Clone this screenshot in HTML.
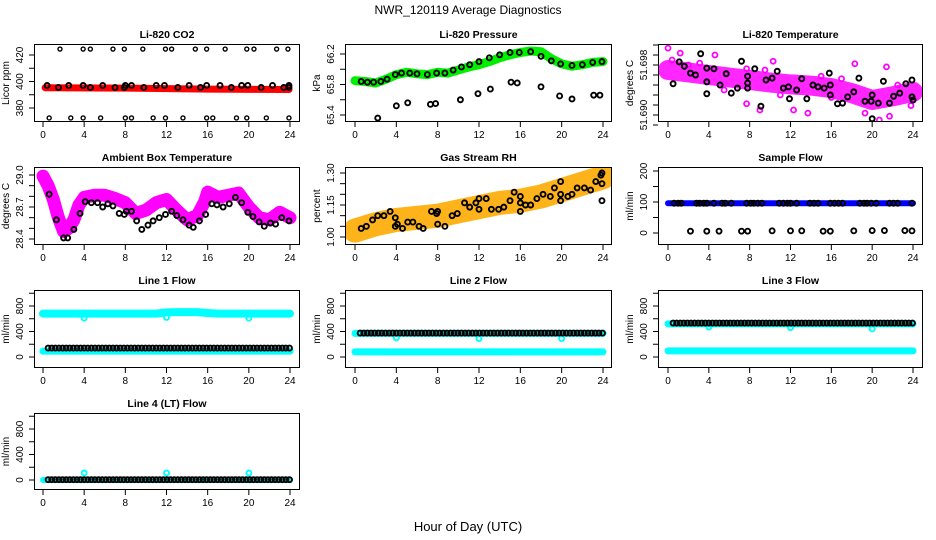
<!DOCTYPE html>
<html><head><meta charset="utf-8">
<style>
html,body{margin:0;padding:0;background:#fff;}
svg{display:block;font-family:"Liberation Sans",Arial,sans-serif;}
</style></head>
<body>
<svg id="chart" width="936" height="540" viewBox="0 0 936 540" xmlns="http://www.w3.org/2000/svg">
<rect x="0" y="0" width="936" height="540" fill="#fff"/>
<text x="468" y="14" text-anchor="middle" font-size="12">NWR_120119  Average Diagnostics</text>
<text x="468" y="531" text-anchor="middle" font-size="13">Hour of Day (UTC)</text>
<g id="panels"></g>
</svg>
<script>
// ---------- data ----------
const xTicks = [0,4,8,12,16,20,24];

// CO2
const co2BandHours = [0.2,8,16,23.9];
const co2BandVals = [395.3,395,394.3,394];
const co2MidHours = [0.4,1.5,2.5,3.9,4.6,5.8,7.0,7.9,8.0,8.6,9.8,11.0,11.8,13.1,14.2,15.3,15.9,17.2,18.3,19.3,19.9,21.2,22.3,23.4,23.9,23.9];
const co2MidVals = [397,395.5,397,397,395.5,397,395.5,395.5,397,397,395.5,397,397,395.5,397,395.5,397,397,395.5,397,397,395.5,397,395.5,397,395.5];
const co2TopHours = [1.65,3.9,4.6,6.8,7.9,9.7,11.9,12.5,14.8,15.9,17.7,19.8,20.5,22.7,23.8];
const co2TopVals = [424.5,424.5,424.5,424.5,424.5,424.5,424.5,424.5,424.5,424.5,424.5,424.5,424.5,424.5,424.5];
const co2BotHours = [0.6,2.7,3.9,5.6,8.0,8.6,10.7,11.9,13.6,15.9,16.5,18.8,19.8,21.7,23.9];
const co2BotVals = [372.5,372.5,372.5,372.5,372.5,372.5,372.5,372.5,372.5,372.5,372.5,372.5,372.5,372.5,372.5];

// Pressure
const presHours = [0,1,2,3,4,5,6,7,8,9,10,11,12,13,14,15,16,17,18,19,20,21,22,23,24];
const presVals = [65.85,65.84,65.82,65.87,65.93,65.96,65.94,65.93,65.96,65.95,65.99,66.03,66.06,66.10,66.15,66.19,66.22,66.24,66.23,66.14,66.07,66.04,66.06,66.09,66.10];
const presBlackHours = [0.6,1.2,1.8,2.5,3.1,3.9,4.5,5.3,6.0,7.0,7.9,8.7,9.5,10.3,11.1,12.0,13.0,14.0,15.0,15.9,17.0,18.0,19.0,19.9,21.0,22.0,23.0,23.9];
const presBlackVals = [65.84,65.83,65.83,65.84,65.87,65.93,65.95,65.95,65.94,65.93,65.95,65.95,65.99,66.03,66.06,66.10,66.15,66.19,66.22,66.22,66.23,66.17,66.11,66.07,66.05,66.06,66.09,66.10];
const presLowHours = [2.2,4.0,5.1,7.3,7.8,10.2,11.9,13.1,15.1,15.7,18.0,19.8,21.0,23.1,23.7];
const presLowVals = [65.36,65.52,65.56,65.54,65.55,65.60,65.68,65.74,65.83,65.82,65.77,65.65,65.61,65.66,65.66];

// Li-820 Temperature
const tempBandHours = [0,2,4,6,8,10,12,14,16,18,20,22,24];
const tempBandVals = [51.6972,51.6968,51.6964,51.696,51.6956,51.6952,51.6949,51.6947,51.6943,51.6935,51.6924,51.693,51.6937];
const tempMagHours = [0,1.2,3.1,4.6,7.7,9.0,10.3,12.3,13.7,18.3,21.4,20.7,21.7,19.3,7.7,0.4,2.0,5.5,11.0,15.0,17.0,22.5,23.8,16.0,9.5];
const tempMagVals = [51.7007,51.6999,51.6983,51.6996,51.6918,51.6908,51.6986,51.6908,51.6903,51.6982,51.6977,51.6892,51.6898,51.6903,51.6974,51.6988,51.6980,51.6940,51.6932,51.6962,51.6958,51.6948,51.6915,51.6928,51.6972];
const tempBlackHours = [0.5,1.1,1.6,2.2,2.7,3.2,3.8,3.8,3.8,4.5,5.1,5.7,6.2,6.8,7.2,7.8,7.8,7.8,8.5,9.1,9.6,10.2,10.7,11.3,11.8,11.9,12.6,13.1,13.6,14.2,14.7,15.3,15.8,15.9,15.9,16.6,17.1,17.6,18.2,18.7,19.3,19.9,20.0,20.0,20.6,21.1,21.7,22.1,22.7,23.3,23.9,23.9,24.0];
const tempBlackVals = [51.6950,51.6985,51.6978,51.6967,51.6964,51.6998,51.6975,51.6934,51.6953,51.6974,51.6948,51.6966,51.6935,51.6943,51.6986,51.6962,51.6951,51.6943,51.6974,51.6914,51.6956,51.6959,51.6970,51.6943,51.6945,51.6926,51.6940,51.6958,51.6926,51.6948,51.6945,51.6943,51.6967,51.6948,51.6932,51.6918,51.6919,51.6929,51.6937,51.6959,51.6922,51.6922,51.6932,51.6894,51.6919,51.6954,51.6919,51.6930,51.6935,51.6950,51.6956,51.6929,51.6924];

// Ambient box temperature
const ambHours = [0,0.5,1,1.5,2,2.5,3,3.5,4,5,6,7,8,9,10,11,12,13,14,15,15.7,16,17,18,19,20,21,22,23,24];
const ambVals = [28.99,28.90,28.77,28.60,28.47,28.50,28.58,28.72,28.79,28.81,28.81,28.78,28.74,28.64,28.67,28.74,28.77,28.67,28.58,28.62,28.75,28.84,28.79,28.81,28.83,28.70,28.60,28.58,28.65,28.60];
const ambBlackHours = [0.6,1.3,2.0,2.4,3.0,3.6,4.1,4.7,5.3,5.8,6.3,6.8,7.4,7.9,8.1,8.6,9.1,9.6,10.2,10.7,11.3,11.9,12.5,13.0,13.6,14.2,14.6,15.2,15.8,16.4,16.9,17.5,18.1,18.7,19.3,19.9,20.4,21.0,21.5,22.1,22.6,23.2,23.9];
const ambBlackVals = [28.82,28.58,28.41,28.41,28.49,28.64,28.75,28.74,28.74,28.70,28.73,28.71,28.64,28.63,28.66,28.66,28.57,28.49,28.53,28.57,28.60,28.63,28.66,28.62,28.58,28.53,28.51,28.57,28.63,28.73,28.72,28.70,28.73,28.79,28.74,28.65,28.61,28.56,28.52,28.55,28.54,28.60,28.57];

// Gas stream RH
const rhBandHours = [0,2,4,6,8,10,12,14,16,18,20,22,24];
const rhBandVals = [1.03,1.06,1.08,1.09,1.10,1.12,1.14,1.16,1.17,1.19,1.22,1.25,1.28];
const rhBlackHours = [0.6,1.1,1.7,2.2,2.8,3.4,3.9,3.9,4.1,4.6,5.1,5.6,6.2,6.6,7.4,7.9,8.0,8.0,8.7,9.4,9.9,10.6,11.1,11.7,12.0,12.0,12.7,13.2,13.9,14.4,15.0,15.4,16.0,16.0,16.0,16.5,17.0,17.6,18.2,18.9,19.3,19.9,19.9,19.9,20.6,21.0,21.5,22.2,22.8,23.3,23.8,23.9,23.9,23.9];
const rhBlackVals = [1.04,1.05,1.08,1.10,1.10,1.12,1.09,1.05,1.06,1.04,1.07,1.07,1.05,1.04,1.12,1.11,1.12,1.06,1.05,1.10,1.11,1.16,1.14,1.16,1.18,1.13,1.18,1.13,1.13,1.14,1.17,1.21,1.19,1.16,1.12,1.15,1.15,1.18,1.20,1.19,1.23,1.26,1.20,1.17,1.19,1.20,1.23,1.23,1.22,1.26,1.29,1.30,1.25,1.17];

// Sample flow
const sampBandHours = [0,24];
const sampBandVals = [96,96];
const sampHiHours = [0.6,1.0,1.3,2.8,3.1,3.5,3.8,4.5,5.3,5.6,6.2,7.7,8.1,8.4,8.8,9.2,10.9,11.3,11.7,12.0,12.6,13.9,14.3,14.7,15.9,16.3,16.7,17.1,18.8,19.2,19.5,19.9,20.4,21.7,22.1,22.5,23.9];
const sampHiVals = [96,96,96,96,96,96,96,96,96,96,96,96,96,96,96,96,96,96,96,96,96,96,96,96,96,96,96,96,96,96,96,96,96,96,96,96,96];
const sampLoHours = [2.2,3.8,5.0,7.2,7.8,10.2,12.0,13.1,15.2,15.9,18.2,20.0,21.2,23.2,23.9];
const sampLoVals = [6,6,6,6,6,7,7,7,6,6,7,8,8,8,7];

// Line flows
const flowHours = [0,1,2,3,4,5,6,7,8,9,10,11,12,13,14,15,16,17,18,19,20,21,22,23,24];
const line1Hi = [680,680,680,680,680,680,680,680,680,680,680,680,700,705,705,705,690,680,680,680,680,680,680,680,680];
const line1Lo = [92,92,92,92,92,92,92,92,92,92,92,92,92,92,92,92,92,92,92,92,92,92,92,92,92];
const line2Hi = [370,370,370,370,370,370,370,370,370,370,370,370,370,370,370,370,370,370,370,370,370,370,370,370,370];
const line2Lo = [80,80,80,80,80,80,80,80,80,80,80,80,80,80,80,80,80,80,80,80,80,80,80,80,80];
const line3Hi = [520,520,520,520,520,520,520,520,520,520,520,520,520,520,520,520,520,520,520,520,520,520,520,520,520];
const line3Lo = [95,95,95,95,95,95,95,95,95,95,95,95,95,95,95,95,95,95,95,95,95,95,95,95,95];
const line4Hi = [0,0,0,0,0,0,0,0,0,0,0,0,0,0,0,0,0,0,0,0,0,0,0,0,0];
const chainHours = [0.5,0.85,1.2,1.55,1.9,2.25,2.6,2.95,3.3,3.65,4.0,4.35,4.7,5.05,5.4,5.75,6.1,6.45,6.8,7.15,7.5,7.85,8.2,8.55,8.9,9.25,9.6,9.95,10.3,10.65,11.0,11.35,11.7,12.05,12.4,12.75,13.1,13.45,13.8,14.15,14.5,14.85,15.2,15.55,15.9,16.25,16.6,16.95,17.3,17.65,18.0,18.35,18.7,19.05,19.4,19.75,20.1,20.45,20.8,21.15,21.5,21.85,22.2,22.55,22.9,23.25,23.6,23.95];
const line1Black = [140,140,140,140,140,140,140,140,140,140,140,140,140,140,140,140,140,140,140,140,140,140,140,140,140,140,140,140,140,140,140,140,140,140,140,140,140,140,140,140,140,140,140,140,140,140,140,140,140,140,140,140,140,140,140,140,140,140,140,140,140,140,140,140,140,140,140,140];
const line2Black = [375,375,375,375,375,375,375,375,375,375,375,375,375,375,375,375,375,375,375,375,375,375,375,375,375,375,375,375,375,375,375,375,375,375,375,375,375,375,375,375,375,375,375,375,375,375,375,375,375,375,375,375,375,375,375,375,375,375,375,375,375,375,375,375,375,375,375,375];
const line3Black = [533,533,533,533,533,533,533,533,533,533,533,533,533,533,533,533,533,533,533,533,533,533,533,533,533,533,533,533,533,533,533,533,533,533,533,533,533,533,533,533,533,533,533,533,533,533,533,533,533,533,533,533,533,533,533,533,533,533,533,533,533,533,533,533,533,533,533,533];
const line4Black = [5,5,5,5,5,5,5,5,5,5,5,5,5,5,5,5,5,5,5,5,5,5,5,5,5,5,5,5,5,5,5,5,5,5,5,5,5,5,5,5,5,5,5,5,5,5,5,5,5,5,5,5,5,5,5,5,5,5,5,5,5,5,5,5,5,5,5,5];
const dipHours = [4,12,20];
const line1Dip = [610,620,610];
const line2Dip = [300,290,290];
const line3Dip = [470,460,440];
const line4Dip = [110,110,110];

// ---------- drawing ----------
const NS = "http://www.w3.org/2000/svg";
const root = document.getElementById('panels');
const cols = [{bl:34,br:300,x0:43,x24:290},{bl:345,br:612,x0:355,x24:603},{bl:658,br:923,x0:668,x24:913}];
const rows = [{t:44,b:122},{t:167,b:245},{t:290,b:368},{t:413,b:490}];
let clipId = 0;

function mk(tag, attrs, parent){
  const e = document.createElementNS(NS, tag);
  for (const k in attrs) e.setAttribute(k, attrs[k]);
  parent.appendChild(e);
  return e;
}

function panel(c, r, title, ylab, v1, p1, v2, p2, yticks, ylabels, name){
  const C = cols[c], R = rows[r];
  const g = mk('g', {}, root);
  
  
  const X = h => C.x0 + h * (C.x24 - C.x0) / 24;
  const Y = v => p1 + (v - v1) * (p2 - p1) / (v2 - v1);
  const t = mk('text', {x:(C.bl+C.br)/2, y:R.t-6, 'text-anchor':'middle', 'font-size':10.5, 'font-weight':'bold'}, g);
  t.textContent = title;
  
  
  const id = 'clip' + (clipId++);
  const cp = mk('clipPath', {id:id}, g);
  mk('rect', {x:C.bl, y:R.t, width:C.br-C.bl, height:R.b-R.t}, cp);
  const plot = mk('g', {'clip-path':'url(#' + id + ')'}, g);
  
  
  const box = mk('rect', {x:C.bl+0.5, y:R.t+0.5, width:C.br-C.bl-1, height:R.b-R.t-1, fill:'none', stroke:'#000', 'stroke-width':1}, g);
  
  
  const xa = mk('g', {}, g);
  
  
  xTicks.forEach(h => {
    mk('line', {x1:X(h), x2:X(h), y1:R.b, y2:R.b+5, stroke:'#000'}, xa);
    const tl = mk('text', {x:X(h), y:R.b+16, 'text-anchor':'middle', 'font-size':10}, xa);
    tl.textContent = h;
    
    
  });
  const ya = mk('g', {}, g);
  
  
  yticks.forEach(v => mk('line', {x1:C.bl-5, x2:C.bl, y1:Y(v), y2:Y(v), stroke:'#000'}, ya));
  ylabels.forEach(l => {
    const yy = Y(l[0]);
    const tl = mk('text', {x:C.bl-11, y:yy, 'text-anchor':'middle', 'font-size':10, transform:'rotate(-90 ' + (C.bl-11) + ' ' + yy + ')'}, ya);
    tl.textContent = l[1];
    
    
  });
  const ym = (R.t + R.b) / 2, yx = C.bl - 25;
  const yl = mk('text', {x:yx, y:ym, 'text-anchor':'middle', 'font-size':10, transform:'rotate(-90 ' + yx + ' ' + ym + ')'}, g);
  yl.textContent = ylab;
  
  

  return {
    band(hs, vs, color, w, nm, op){
      const pts = hs.map((h,i) => X(h).toFixed(1) + ',' + Y(vs[i]).toFixed(1)).join(' ');
      const pl = mk('polyline', {points:pts, fill:'none', stroke:color, 'stroke-width':w, 'stroke-linecap':'round', 'stroke-linejoin':'round', 'stroke-opacity':op||1}, plot);
      
      
    },
    pts(hs, vs, color, nm, rr, sw){
      const gg = mk('g', {}, plot);
      
      
      hs.forEach((h,i) => {
        const ci = mk('circle', {cx:X(h), cy:Y(vs[i]), r:rr||2.5, fill:'none', stroke:color, 'stroke-width':sw||1.9}, gg);
        
        
      });
    }
  };
}

let p = panel(0,0,'Li-820 CO2','Licor ppm',420,55,380,108,[380,390,400,410,420],[[380,'380'],[400,'400'],[420,'420']],'co2');
p.band(co2BandHours, co2BandVals, '#ff0000', 7, 'co2-band');
p.pts(co2MidHours, co2MidVals, '#000', 'co2-hourly-points');
p.pts(co2TopHours, co2TopVals, '#000', 'co2-high-points', 2, 1.4);
p.pts(co2BotHours, co2BotVals, '#000', 'co2-low-points', 2, 1.4);

p = panel(1,0,'Li-820 Pressure','kPa',66.2,54,65.4,115,[65.4,65.6,65.8,66.0,66.2],[[65.4,'65.4'],[65.8,'65.8'],[66.2,'66.2']],'pressure');
p.band(presHours, presVals, '#00ee00', 9, 'pressure-band');
p.pts(presBlackHours, presBlackVals, '#000', 'pressure-hourly-points');
p.pts(presLowHours, presLowVals, '#000', 'pressure-low-points');

p = panel(2,0,'Li-820 Temperature','degrees C',51.698,65,51.690,115,[51.6884,51.69,51.6916,51.6932,51.6948,51.6964,51.698,51.6996,51.7012],[[51.690,'51.690'],[51.698,'51.698']],'temperature');
p.band(tempBandHours, tempBandVals, '#ff00ff', 20, 'temperature-band', 0.85);
p.pts(tempMagHours, tempMagVals, '#ff00ff', 'temperature-outliers', 2.5, 1.8);
p.pts(tempBlackHours, tempBlackVals, '#000', 'temperature-hourly-points');

p = panel(0,1,'Ambient Box Temperature','degrees C',29.0,175,28.4,239,[28.4,28.5,28.6,28.7,28.8,28.9,29.0],[[28.4,'28.4'],[28.7,'28.7'],[29.0,'29.0']],'ambient');
p.band(ambHours, ambVals, '#ff00ff', 13, 'ambient-band');
p.pts(ambBlackHours, ambBlackVals, '#000', 'ambient-hourly-points');

p = panel(1,1,'Gas Stream RH','percent',1.30,173,1.00,237,[1.0,1.05,1.1,1.15,1.2,1.25,1.3],[[1.0,'1.00'],[1.15,'1.15'],[1.3,'1.30']],'rh');
p.band(rhBandHours, rhBandVals, '#ffb31a', 24, 'rh-band');
p.pts(rhBlackHours, rhBlackVals, '#000', 'rh-hourly-points');

p = panel(2,1,'Sample Flow','ml/min',200,171,0,233,[0,50,100,150,200],[[0,'0'],[100,'100'],[200,'200']],'sample-flow');
p.band(sampBandHours, sampBandVals, '#0000ff', 6, 'sample-flow-band');
p.pts(sampHiHours, sampHiVals, '#000', 'sample-flow-points');
p.pts(sampLoHours, sampLoVals, '#000', 'sample-flow-low-points');

const fT = [0,200,400,600,800,1000], fL = [[0,'0'],[400,'400'],[800,'800']];
p = panel(0,2,'Line 1 Flow','ml/min',800,306,0,357,fT,fL,'line1-flow');
p.band(flowHours, line1Hi, '#00ffff', 8, 'line1-high-band');
p.band(flowHours, line1Lo, '#00ffff', 7, 'line1-low-band');
p.pts(dipHours, line1Dip, '#00ffff', 'line1-dips');
p.pts(chainHours, line1Black, '#000', 'line1-points');

p = panel(1,2,'Line 2 Flow','ml/min',800,306,0,357,fT,fL,'line2-flow');
p.band(flowHours, line2Hi, '#00ffff', 7, 'line2-high-band');
p.band(flowHours, line2Lo, '#00ffff', 7, 'line2-low-band');
p.pts(dipHours, line2Dip, '#00ffff', 'line2-dips');
p.pts(chainHours, line2Black, '#000', 'line2-points');

p = panel(2,2,'Line 3 Flow','ml/min',800,306,0,357,fT,fL,'line3-flow');
p.band(flowHours, line3Hi, '#00ffff', 7, 'line3-high-band');
p.band(flowHours, line3Lo, '#00ffff', 7, 'line3-low-band');
p.pts(dipHours, line3Dip, '#00ffff', 'line3-dips');
p.pts(chainHours, line3Black, '#000', 'line3-points');

p = panel(0,3,'Line 4 (LT) Flow','ml/min',800,429,0,480,fT,fL,'line4-flow');
p.band(flowHours, line4Hi, '#00ffff', 6, 'line4-band');
p.pts(dipHours, line4Dip, '#00ffff', 'line4-dips');
p.pts(chainHours, line4Black, '#000', 'line4-points');
</script>
</body></html>
